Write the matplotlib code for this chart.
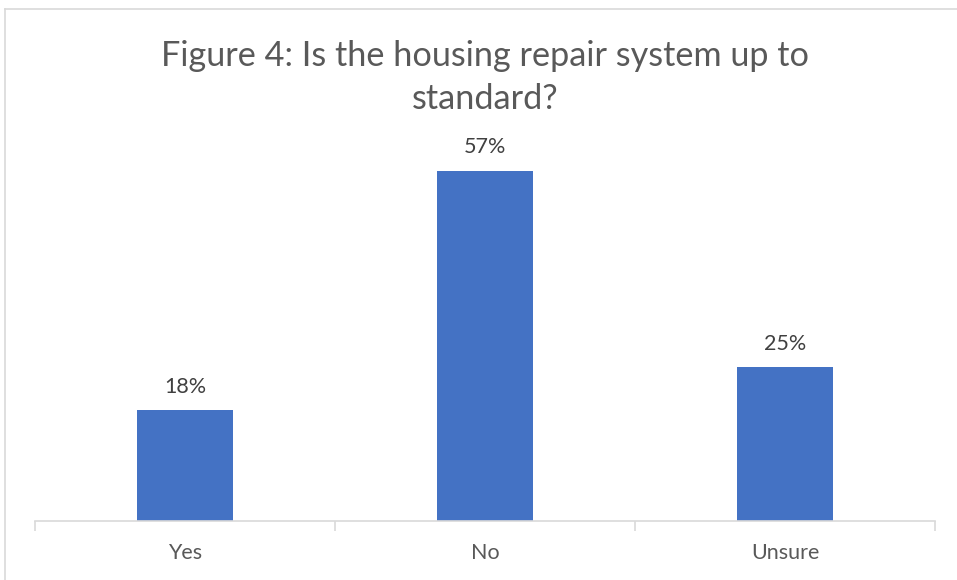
import matplotlib
matplotlib.use("Agg")
import matplotlib.pyplot as plt
from matplotlib.lines import Line2D

categories = ["Yes", "No", "Unsure"]
values = [18, 57, 25]
value_labels = ["18%", "57%", "25%"]
title = "Figure 4: Is the housing repair system up to\nstandard?"

plt.rcParams["font.family"] = ["Lato", "DejaVu Sans"]

W, H = 957, 580
fig = plt.figure(figsize=(W / 100, H / 100), dpi=100)
fig.patch.set_facecolor("white")

# outer chart frame (top and left edges fall inside the image)
fig.add_artist(Line2D([4.5 / W, 1.0], [1 - 8.5 / H, 1 - 8.5 / H], transform=fig.transFigure,
                      color="#d9d9d9", lw=1.2))
fig.add_artist(Line2D([4.5 / W, 4.5 / W], [0, 1 - 8.5 / H], transform=fig.transFigure,
                      color="#d9d9d9", lw=1.2))

ax_left, ax_right = 35 / W, 935 / W
base = (H - 521) / H
ymax = 60
px_per_unit = 350 / 57
ax_h = ymax * px_per_unit / H
ax = fig.add_axes([ax_left, base, ax_right - ax_left, ax_h])

x = list(range(len(categories)))
bars = ax.bar(x, values, width=0.317, color="#4472c4", zorder=2)

ax.set_xlim(-0.5, len(categories) - 0.5)
ax.set_ylim(0, ymax)
for s in ["top", "right", "left"]:
    ax.spines[s].set_visible(False)
ax.spines["bottom"].set_color("#d9d9d9")
ax.spines["bottom"].set_linewidth(1.2)
ax.set_yticks([])

ax.set_xticks([i - 0.5 for i in range(len(categories) + 1)], minor=False)
ax.set_xticklabels([])
ax.tick_params(axis="x", which="major", length=7, width=1.2, color="#d9d9d9", direction="out")
ax.set_xticks(x, minor=True)
ax.set_xticklabels(categories, minor=True)
ax.tick_params(axis="x", which="minor", length=0, pad=16, labelsize=15.5, labelcolor="#595959")

for b, lab in zip(bars, value_labels):
    ax.annotate(lab, (b.get_x() + b.get_width() / 2, b.get_height()),
                xytext=(0, 17), textcoords="offset points", ha="center", va="center",
                fontsize=15.5, color="#404040")

fig.text(485 / W, 1 - 77.5 / H, title, ha="center", va="center", fontsize=24.7,
         color="#595959", linespacing=1.45)

fig.savefig("out.png", dpi=100, facecolor="white")
